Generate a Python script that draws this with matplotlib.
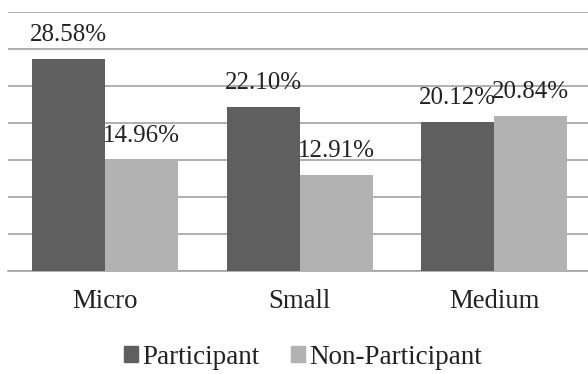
import numpy as np
import matplotlib
matplotlib.use("Agg")
import matplotlib.pyplot as plt
from matplotlib.patches import Patch

categories = ["Micro", "Small", "Medium"]
participant = [28.58, 22.10, 20.12]
non_participant = [14.96, 12.91, 20.84]
series_names = ["Participant", "Non-Participant"]

dark = "#5f5f5f"
light = "#b2b2b2"

plt.rcParams["font.family"] = ["Liberation Serif", "DejaVu Serif"]

fig = plt.figure(figsize=(5.88, 3.74), dpi=100)
ax = fig.add_axes([7.5 / 588, (374 - 270.7) / 374, 584 / 588, 259 / 374])

x = np.arange(len(categories))
w = 0.375
b1 = ax.bar(x - w / 2, participant, w, color=dark, zorder=3)
b2 = ax.bar(x + w / 2, non_participant, w, color=light, zorder=3)

# value labels above each bar
for bars, vals in ((b1, participant), (b2, non_participant)):
    for rect, v in zip(bars, vals):
        ax.annotate(f"{v:.2f}%", (rect.get_x() + rect.get_width() / 2, v),
                    xytext=(0, 18), textcoords="offset pixels",
                    ha="center", va="baseline", fontsize=18, color="#222222")

ax.set_xlim(-0.5, 2.5)
ax.set_ylim(0, 35)
ax.set_yticks(np.arange(0, 36, 5))
ax.set_yticklabels([])
ax.tick_params(axis="y", length=0)
ax.grid(axis="y", color="#9a9a9a", linewidth=1.1, zorder=0)
ax.set_axisbelow(True)
for s in ("left", "right", "top"):
    ax.spines[s].set_visible(False)
ax.spines["bottom"].set_color("#9a9a9a")
ax.spines["bottom"].set_linewidth(1.1)

ax.set_xticks(x)
ax.set_xticklabels(categories, fontsize=19.3, color="#222222")
ax.tick_params(axis="x", length=0, pad=13)

handles = [Patch(color=dark), Patch(color=light)]
fig.legend(handles, series_names, loc="center", bbox_to_anchor=(303 / 588, 1 - 357 / 374),
           ncol=2, frameon=False, fontsize=19.5, handlelength=0.54, handleheight=0.54,
           handletextpad=0.15, columnspacing=1.15, labelcolor="#222222")

fig.savefig("out.png", dpi=100)
